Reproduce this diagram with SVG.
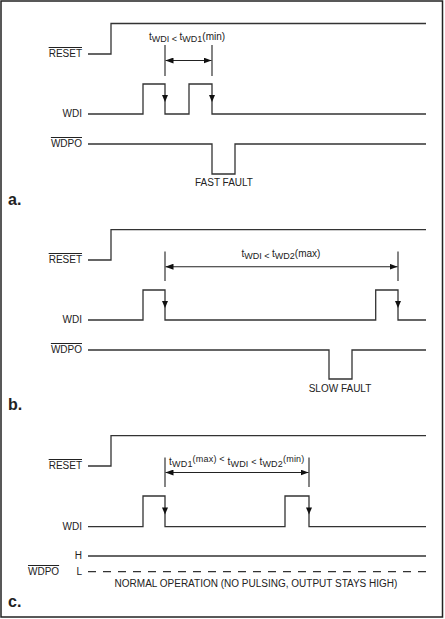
<svg xmlns="http://www.w3.org/2000/svg" width="445" height="619" viewBox="0 0 445 619">
<style>
text{font-family:"Liberation Sans",Arial,sans-serif;font-size:10px;fill:#222}
.r{text-anchor:end}
.m{text-anchor:middle}
.ov{text-decoration:overline}
.s{font-size:9px}
.big{font-size:16px;font-weight:bold}
.w{fill:none;stroke:#333;stroke-width:1.3}
.dim{fill:none;stroke:#222;stroke-width:1.1}
.dash{fill:none;stroke:#333;stroke-width:1.3;stroke-dasharray:8 7}
.ah{fill:#111}
</style>
<defs>
<marker id="arr" viewBox="0 0 8 6" refX="8" refY="3" markerWidth="8" markerHeight="6" markerUnits="userSpaceOnUse" orient="auto-start-reverse">
<path d="M0,0 L8,3 L0,6 Z" class="ah"/>
</marker>
<path id="down" d="M-3,0 H3 L0,7 Z" class="ah"/>
</defs>
<rect x="1" y="1" width="441.5" height="616" fill="#fff" stroke="#222" stroke-width="1.5"/>

<g id="panel-a">
<g id="a-labels">
<text x="82" y="57" class="r ov">RESET</text>
<text x="82" y="117" class="r">WDI</text>
<text x="82" y="147" class="r ov">WDPO</text>
<text x="8" y="205" class="big">a.</text>
<text x="224" y="186" class="m">FAST FAULT</text>
<text x="149" y="40">t<tspan class="s" dy="2">WDI</tspan><tspan class="s"> &lt; </tspan><tspan dy="-2">t</tspan><tspan class="s" dy="2">WD1</tspan><tspan dy="-2">(min)</tspan></text>
</g>
<g id="a-waves">
<path class="w" d="M88,54 H111 V23.5 H426"/>
<path class="w" d="M88,114 H143 V84 H165 V114 H189 V84 H212 V114 H426"/>
<path class="w" d="M88,144 H212 V174 H235 V144 H426"/>
</g>
<g id="a-connectors">
<path class="dim" d="M165,45 V76 M212,45 V76"/>
<path class="dim" d="M165.5,60.5 H211.5" marker-start="url(#arr)" marker-end="url(#arr)"/>
<use href="#down" x="165" y="95"/>
<use href="#down" x="212" y="95"/>
</g>
</g>

<g id="panel-b">
<g id="b-labels">
<text x="82" y="263" class="r ov">RESET</text>
<text x="82" y="323" class="r">WDI</text>
<text x="82" y="353" class="r ov">WDPO</text>
<text x="8" y="410" class="big">b.</text>
<text x="340" y="392" class="m">SLOW FAULT</text>
<text x="241.5" y="257">t<tspan class="s" dy="2">WDI</tspan><tspan class="s"> &lt; </tspan><tspan dy="-2">t</tspan><tspan class="s" dy="2">WD2</tspan><tspan dy="-2">(max)</tspan></text>
</g>
<g id="b-waves">
<path class="w" d="M88,260 H111 V229.7 H426"/>
<path class="w" d="M88,320 H143 V290 H165 V320 H375.7 V290 H398 V320 H426"/>
<path class="w" d="M88,350 H329 V379 H352 V350 H426"/>
</g>
<g id="b-connectors">
<path class="dim" d="M165,251.5 V281 M398,251.5 V281"/>
<path class="dim" d="M165.5,266.7 H397.5" marker-start="url(#arr)" marker-end="url(#arr)"/>
<use href="#down" x="165" y="301"/>
<use href="#down" x="398" y="301"/>
</g>
</g>

<g id="panel-c">
<g id="c-labels">
<text x="82" y="469" class="r ov">RESET</text>
<text x="82" y="530" class="r">WDI</text>
<text x="82" y="559" class="r">H</text>
<text x="82" y="575" class="r">L</text>
<text x="28" y="575" class="ov">WDPO</text>
<text x="8" y="607" class="big">c.</text>
<text x="256" y="587" class="m">NORMAL OPERATION (NO PULSING, OUTPUT STAYS HIGH)</text>
<text x="169" y="465" letter-spacing="0.2">t<tspan class="s" dy="2">WD1</tspan><tspan class="s" dy="-5">(max)</tspan><tspan class="s"> &lt; </tspan><tspan dy="3">t</tspan><tspan class="s" dy="2">WDI</tspan><tspan class="s" dy="-2"> &lt; </tspan><tspan>t</tspan><tspan class="s" dy="2">WD2</tspan><tspan class="s" dy="-5">(min)</tspan></text>
</g>
<g id="c-waves">
<path class="w" d="M88,466 H111 V435.7 H426"/>
<path class="w" d="M88,526.7 H143 V496 H165 V526.7 H285 V496 H309 V526.7 H426"/>
<path class="w" d="M88,556 H426"/>
<path class="dash" d="M88,571.7 H426"/>
</g>
<g id="c-connectors">
<path class="dim" d="M165,457.5 V487 M309,457.5 V487"/>
<path class="dim" d="M165.5,472.5 H308.5" marker-start="url(#arr)" marker-end="url(#arr)"/>
<use href="#down" x="165" y="507.5"/>
<use href="#down" x="309" y="507.5"/>
</g>
</g>
</svg>
